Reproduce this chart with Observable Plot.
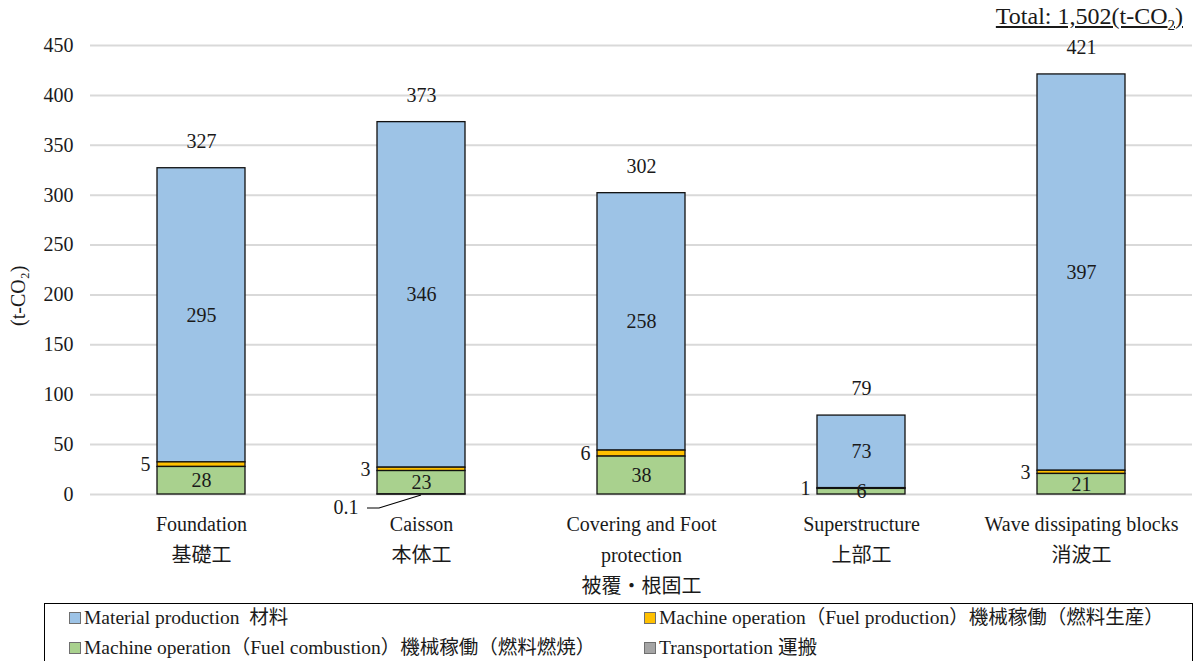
<!DOCTYPE html>
<html>
<head>
<meta charset="utf-8">
<script src="https://cdn.jsdelivr.net/npm/d3@7"></script>
<script src="https://cdn.jsdelivr.net/npm/@observablehq/plot@0.6"></script>
<style>
  body { margin: 0; background: #fff; }
  #wrap { position: relative; width: 1196px; height: 661px; overflow: hidden;
          font-family: "Liberation Serif", "Noto Sans CJK JP", serif; color: #1a1a1a; }
  #total { position: absolute; right: 13px; top: 3px; font-size: 24px; text-decoration: underline; white-space: nowrap; }
  #total sub { font-size: 15px; }
  #chart { position: absolute; left: 0; top: 0; }
  #legend { position: absolute; left: 44px; top: 603px; width: 1149px; height: 80px;
            border: 1.5px solid #000; box-sizing: border-box; }
  .item { position: absolute; font-size: 19.5px; display: flex; align-items: center; white-space: pre; line-height: 1; }
  .sw { width: 10px; height: 10px; border: 1px solid #6f6f6f; margin-right: 3px; }
</style>
</head>
<body>
<div id="wrap">
  <div id="chart"></div>
  <div id="total"></div>
  <div id="legend"></div>
</div>
<script>
// Emissions by work type (t-CO2)
const categories = ["Foundation", "Caisson", "Covering and Foot protection", "Superstructure", "Wave dissipating blocks"];
const categoryLabels = [
  "Foundation\n基礎工",
  "Caisson\n本体工",
  "Covering and Foot\nprotection\n被覆・根固工",
  "Superstructure\n上部工",
  "Wave dissipating blocks\n消波工"
];
const seriesNames = [
  "Material production  材料",
  "Machine operation（Fuel production）機械稼働（燃料生産）",
  "Machine operation（Fuel combustion）機械稼働（燃料燃焼）",
  "Transportation 運搬"
];
const seriesColors = ["#9DC3E6", "#FFC000", "#A9D18E", "#A5A5A5"];

const materialProduction = [294.8, 346.3, 258, 72.7, 397.2];
const fuelProduction     = [4.6, 3.4, 6, 0.8, 3.2];
const fuelCombustion     = [27.6, 23.4, 38, 5.6, 20.6];
const transportation     = [0, 0.1, 0, 0, 0];

const yTicks = [0, 50, 100, 150, 200, 250, 300, 350, 400, 450];

// long table: one row per category × series
const seriesValues = [materialProduction, fuelProduction, fuelCombustion, transportation];
const rows = [];
seriesNames.forEach((s, si) => categories.forEach((c, ci) => {
  rows.push({category: c, series: s, value: seriesValues[si][ci]});
}));

// bottom to top
const stackOrder = [seriesNames[3], seriesNames[2], seriesNames[1], seriesNames[0]];
const fmt0 = d3.format(".0f");
const labelOf = new Map(categories.map((c, i) => [c, categoryLabels[i]]));
const font = "'Liberation Serif', 'Noto Sans CJK JP', serif";
const ink = "#1a1a1a";

// leader from the small transportation label to its bar
const leader = (index, scales) => {
  const g = d3.create("svg:g");
  const bw = scales.x.bandwidth ? scales.x.bandwidth() : 0;
  rows.filter(d => d.series === seriesNames[3] && d.value > 0).forEach(d => {
    const cx = scales.x(d.category) + bw / 2;
    const y0 = scales.y(0);
    g.append("path")
      .attr("d", `M${cx - 54},${y0 + 14}H${cx - 42}L${cx},${y0 + 1}`)
      .attr("fill", "none").attr("stroke", "#000").attr("stroke-width", 1.2);
  });
  return g.node();
};

const plot = Plot.plot({
  width: 1196,
  height: 600,
  marginTop: 45,
  marginBottom: 106,
  marginLeft: 90,
  marginRight: 4,
  style: {fontFamily: font, fontSize: "20px", color: ink, background: "transparent"},
  x: {domain: categories, paddingInner: 0.6, paddingOuter: 0.3, label: null},
  y: {domain: [0, 450], label: null},
  color: {domain: seriesNames, range: seriesColors},
  marks: [
    Plot.gridY(yTicks, {stroke: "#D9D9D9", strokeOpacity: 1, strokeWidth: 2}),
    Plot.axisY(yTicks, {tickSize: 0, tickPadding: 17, fontSize: 20, label: null}),
    Plot.axisX({tickSize: 0, tickPadding: 14, fontSize: 20, lineHeight: 1.55,
                tickFormat: d => labelOf.get(d), label: null}),
    Plot.barY(rows, Plot.stackY({
      x: "category", y: "value", fill: "series", order: stackOrder,
      stroke: "#111", strokeWidth: 1.3, filter: d => d.value > 0
    })),
    // material & combustion values inside the bars
    Plot.text(rows, Plot.stackY({
      x: "category", y: "value", z: "series", order: stackOrder,
      text: d => (d.series === seriesNames[0] || d.series === seriesNames[2]) ? fmt0(d.value) : null,
      fontSize: 20, fill: ink
    })),
    // fuel production values to the left of the bars
    Plot.text(rows, Plot.stackY({
      x: "category", y: "value", z: "series", order: stackOrder,
      text: d => d.series === seriesNames[1] ? fmt0(d.value) : null,
      textAnchor: "end", dx: -51, fontSize: 20, fill: ink
    })),
    // transportation value (tiny) with a leader
    Plot.text(rows.filter(d => d.series === seriesNames[3] && d.value > 0), {
      x: "category", y: () => 0, text: d => String(d.value),
      textAnchor: "end", dx: -63, dy: 13, fontSize: 20, fill: ink
    }),
    leader,
    // totals above the bars
    Plot.text(rows, Plot.groupX({y: "sum", text: V => fmt0(d3.sum(V))}, {
      x: "category", y: "value", text: "value", dy: -27, fontSize: 20, fill: ink
    })),
    // y-axis title
    Plot.text(["(t-CO₂)"], {frameAnchor: "left", rotate: -90, dx: -72, dy: 56, fontSize: 20, fill: ink})
  ]
});
document.getElementById("chart").append(plot);

// grand total
const grand = d3.sum(seriesValues.flat());
document.getElementById("total").innerHTML = `Total: ${d3.format(",.0f")(grand)}(t-CO<sub>2</sub>)`;

// legend: two columns, two rows
const legendPos = [[24, 14], [599, 14], [24, 44], [599, 44]];
const legend = d3.select("#legend");
seriesNames.forEach((s, i) => {
  const it = legend.append("div").attr("class", "item")
    .style("left", legendPos[i][0] + "px").style("top", (legendPos[i][1] - 10) + "px");
  it.append("div").attr("class", "sw").style("background", seriesColors[i]);
  it.append("span").text(s);
});
</script>
</body>
</html>
